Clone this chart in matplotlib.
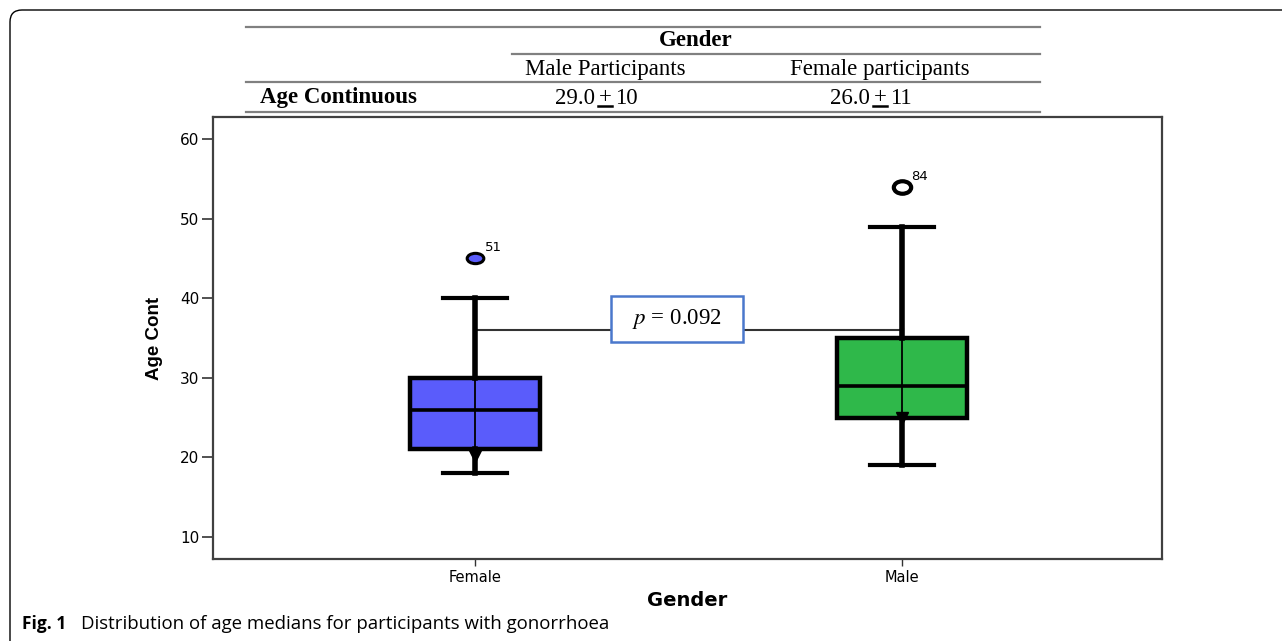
import matplotlib
matplotlib.use("Agg")
import matplotlib.pyplot as plt
from matplotlib.lines import Line2D
from matplotlib.patches import FancyBboxPatch, Rectangle
from matplotlib.path import Path
from matplotlib.transforms import IdentityTransform, Affine2D

plt.rcParams['mathtext.fontset'] = 'stix'

# ---------------- data ----------------
groups = ["Female", "Male"]
q1 = [21, 25]
medians = [26, 29]
q3 = [30, 35]
whisk_lo = [18, 19]
whisk_hi = [40, 49]
outliers = [45, 54]
outlier_ids = ["51", "84"]
low_markers = [20.2, 25.0]
box_colors = ["#5a5cfb", "#2fb84a"]
connector_y = 36
p_value = 0.092
yticks = [10, 20, 30, 40, 50, 60]

table_header = "Gender"
table_cols = ["Male Participants", "Female participants"]
table_row = "Age Continuous"
table_means = ["29.0", "26.0"]
table_sds = ["10", "11"]

caption_bold = "Fig. 1"
caption_text = "Distribution of age medians for participants with gonorrhoea"

W, H = 1282, 641
fig = plt.figure(figsize=(W / 100, H / 100), dpi=100)


def fx(x):
    return x / W


def fy(y):
    return 1 - y / H


# outer rounded frame (pixel coords)
frame = FancyBboxPatch((10, -30), 1400, H - 10 + 30,
                       boxstyle="round,pad=0,rounding_size=12",
                       transform=IdentityTransform(), fill=False,
                       edgecolor="black", linewidth=1.0)
fig.add_artist(frame)

# ---------------- table ----------------
tcol = "#808080"
for (x0, x1, y) in [(246, 1040, 27), (512, 1040, 54), (246, 1040, 82), (246, 1040, 112)]:
    fig.add_artist(Line2D([fx(x0), fx(x1)], [fy(y), fy(y)], color=tcol, lw=1.6))

serif = "Liberation Serif"
tfs = 16.5
fig.text(fx(696), fy(41), table_header, family=serif, weight="bold",
         fontsize=tfs, ha="center", va="center")
col_x = [605, 880]
for cx, lab in zip(col_x, table_cols):
    fig.text(fx(cx), fy(69), lab, family=serif, fontsize=tfs, ha="center", va="center")
fig.text(fx(260), fy(98), table_row, family=serif, weight="bold",
         fontsize=tfs, ha="left", va="center")
for cx, m, s in zip(col_x, table_means, table_sds):
    fig.text(fx(cx - 10), fy(98), m, family=serif, fontsize=tfs, ha="right", va="center")
    fig.text(fx(cx), fy(98), "+", family=serif, fontsize=tfs, ha="center", va="center")
    fig.text(fx(cx + 10), fy(98), s, family=serif, fontsize=tfs, ha="left", va="center")
    fig.add_artist(Line2D([fx(cx - 7), fx(cx + 7)], [fy(106), fy(106)], color="black", lw=1.8))

# ---------------- box plot ----------------
ax = fig.add_axes([fx(213), fy(559), fx(1162) - fx(213), fy(117) - fy(559)])
positions = [1, 2]
stats = []
for i, g in enumerate(groups):
    stats.append(dict(label=g, med=medians[i], q1=q1[i], q3=q3[i],
                      whislo=whisk_lo[i], whishi=whisk_hi[i], fliers=[]))
bp = ax.bxp(stats, positions=positions, widths=0.305, patch_artist=True,
            showfliers=False,
            boxprops=dict(linewidth=3.2, edgecolor="black"),
            whiskerprops=dict(linewidth=4.0, color="black"),
            capprops=dict(linewidth=3.0, color="black"),
            medianprops=dict(linewidth=2.6, color="black"),
            capwidths=0.15)
for patch, c in zip(bp["boxes"], box_colors):
    patch.set_facecolor(c)
    patch.set_zorder(2)
for i, p in enumerate(positions):
    ax.vlines(p, q1[i], q3[i], color="black", lw=1.3, zorder=3)

# low markers
for p, v in zip(positions, low_markers):
    ax.plot(p, v, marker="v", color="black", markersize=8, zorder=4)

# outliers (slightly flattened ellipses)
ell_f = Path.unit_circle().transformed(Affine2D().scale(1.0, 0.62))
ell_m = Path.unit_circle().transformed(Affine2D().scale(1.0, 0.72))
ax.plot(positions[0], outliers[0], marker=ell_f, markersize=12, markerfacecolor=box_colors[0],
        markeredgecolor="black", markeredgewidth=2.2, linestyle="none", zorder=4)
ax.plot(positions[1], outliers[1], marker=ell_m, markersize=12.5, markerfacecolor="white",
        markeredgecolor="black", markeredgewidth=3.0, linestyle="none", zorder=4)
for p, v, lab in zip(positions, outliers, outlier_ids):
    ax.annotate(lab, (p, v), xytext=(7, 3), textcoords="offset points",
                fontsize=9.5, family="DejaVu Sans", ha="left", va="bottom")

# connector line and p-value box
ax.plot(positions, [connector_y, connector_y], color="#333333", lw=1.5, zorder=1.5)
ax.plot([positions[1], positions[1]], [connector_y, q3[1]], color="black", lw=3.0, zorder=1.5)
rect = Rectangle((1.3185, 34.5), 1.6276 - 1.3185, 40.28 - 34.5, facecolor="white",
                 edgecolor="#4a78cc", lw=1.8, zorder=5)
ax.add_patch(rect)
ax.text((1.3185 + 1.6276) / 2, (34.5 + 40.28) / 2, f"$p$ = {p_value:.3f}",
        family=serif, fontsize=16.5, ha="center", va="center", zorder=6)

ax.set_xlim(0.386, 2.61)
ax.set_ylim(7.24, 62.76)
ax.set_yticks(yticks)
ax.set_yticklabels([str(t) for t in yticks], family="DejaVu Sans", fontsize=11)
ax.set_xticks(positions)
ax.set_xticklabels(groups, family="DejaVu Sans", fontsize=10.5)
ax.tick_params(axis="y", length=8, width=1.2, color="#333333", pad=2)
ax.tick_params(axis="x", length=5, width=1.0, color="#333333", pad=3)
for s in ax.spines.values():
    s.set_linewidth(1.6)
    s.set_color("#404040")

ax.set_ylabel("Age Cont", family="Liberation Sans", weight="bold",
              fontsize=13.5, labelpad=12)
ax.set_xlabel("Gender", family="DejaVu Sans", weight="bold", fontsize=14, labelpad=4)

# ---------------- caption ----------------
fig.text(fx(22), fy(624), caption_bold, family="Open Sans", weight="bold",
         fontsize=12.5, ha="left", va="center")
fig.text(fx(81), fy(624), caption_text, family="Open Sans",
         fontsize=13.4, ha="left", va="center")

fig.savefig("out.png", dpi=100)
